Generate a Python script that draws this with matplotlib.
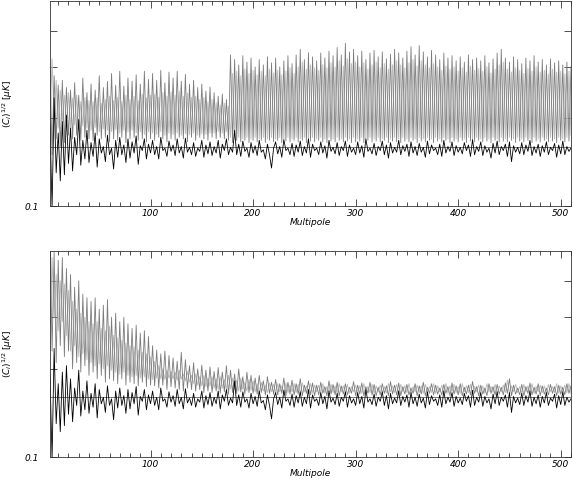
import matplotlib
matplotlib.use("Agg")
import matplotlib.pyplot as plt
import numpy as np

# multipoles sampled every 2
ell = np.arange(2, 511, 2)

# noise spectrum (black), same in both panels, in nK
noise_nk = [
    190, 98, 235, 130, 178, 122, 195, 128, 205, 140,
    185, 132, 172, 150, 198, 138, 168, 145, 182, 141,
    165, 148, 178, 136, 170, 152, 160, 142, 175, 150,
    158, 134, 168, 147, 172, 150, 162, 141, 170, 146,
    166, 152, 174, 139, 161, 155, 170, 145, 163, 152,
    168, 150, 160, 145, 172, 155, 158, 148, 167, 154,
    162, 149, 170, 152, 160, 146, 171, 153, 159, 150,
    165, 148, 158, 154, 168, 147, 162, 151, 166, 149,
    160, 152, 168, 146, 163, 155, 170, 150, 159, 153,
    182, 150, 163, 148, 167, 154, 158, 147, 165, 152,
    161, 149, 168, 153, 156, 145, 163, 150, 135, 158,
    166, 151, 160, 147, 169, 155, 158, 150, 164, 148,
    162, 153, 167, 149, 160, 152, 170, 147, 163, 155,
    158, 150, 166, 152, 161, 146, 168, 154, 159, 151,
    165, 149, 160, 155, 167, 148, 162, 153, 158, 150,
    166, 152, 161, 147, 170, 154, 158, 151, 164, 149,
    160, 155, 167, 150, 162, 146, 165, 152, 159, 153,
    168, 150, 161, 154, 163, 148, 166, 152, 160, 149,
    164, 153, 159, 147, 167, 151, 162, 155, 158, 150,
    163, 148, 168, 152, 160, 154, 166, 149, 161, 153,
    159, 151, 165, 155, 162, 148, 169, 150, 160, 154,
    166, 149, 161, 153, 158, 146, 164, 152, 167, 150,
    160, 155, 163, 148, 166, 142, 161, 153, 159, 151,
    165, 150, 162, 154, 168, 149, 160, 152, 163, 148,
    161, 153, 166, 150, 159, 155, 164, 147, 162, 151,
    167, 150, 160, 154, 158,
]

# top panel, dark grey curve (nK)
top_dark_nk = [
    300, 150, 280, 170, 260, 160, 270, 165, 255, 175,
    250, 170, 265, 175, 240, 168, 275, 172, 245, 170,
    262, 168, 250, 175, 280, 170, 255, 172, 268, 166,
    285, 170, 260, 168, 290, 172, 258, 165, 275, 170,
    268, 172, 282, 168, 262, 170, 290, 166, 272, 170,
    285, 168, 270, 172, 292, 170, 265, 166, 288, 170,
    275, 168, 290, 172, 268, 170, 283, 166, 262, 172,
    270, 168, 255, 172, 262, 170, 248, 168, 256, 172,
    245, 170, 238, 172, 242, 170, 232, 168, 330, 165,
    318, 168, 305, 166, 328, 168, 312, 165, 322, 168,
    300, 166, 318, 168, 305, 165, 325, 168, 310, 166,
    322, 168, 300, 165, 315, 167, 328, 166, 308, 168,
    330, 166, 345, 168, 318, 165, 336, 167, 325, 166,
    315, 168, 335, 166, 322, 165, 340, 167, 328, 166,
    350, 168, 330, 166, 362, 167, 338, 165, 345, 166,
    328, 167, 340, 165, 318, 168, 335, 166, 342, 167,
    325, 166, 338, 168, 320, 165, 332, 167, 345, 166,
    335, 165, 322, 167, 340, 166, 352, 168, 330, 165,
    355, 167, 338, 166, 325, 168, 342, 165, 330, 167,
    318, 166, 335, 168, 322, 165, 328, 167, 315, 166,
    325, 168, 312, 165, 330, 167, 318, 166, 322, 168,
    315, 166, 328, 167, 310, 165, 320, 168, 335, 166,
    345, 167, 322, 166, 312, 168, 325, 165, 318, 167,
    308, 166, 322, 168, 315, 165, 328, 167, 312, 166,
    318, 168, 305, 166, 320, 167, 310, 165, 315, 168,
    305, 166, 312, 167, 300,
]

# top panel, light grey curve (nK)
top_light_nk = [
    190, 320, 200, 270, 185, 250, 195, 240, 190, 245,
    185, 235, 190, 240, 182, 228, 188, 236, 185, 230,
    182, 228, 186, 235, 180, 225, 184, 232, 182, 238,
    180, 230, 183, 236, 178, 228, 182, 240, 180, 232,
    182, 238, 178, 230, 180, 242, 176, 235, 180, 240,
    178, 242, 176, 236, 180, 245, 175, 238, 178, 246,
    176, 240, 178, 248, 175, 238, 177, 244, 176, 236,
    178, 238, 175, 232, 177, 236, 176, 228, 178, 232,
    178, 226, 180, 222, 178, 225, 180, 220, 172, 285,
    170, 290, 172, 280, 170, 295, 172, 285, 170, 292,
    172, 282, 170, 290, 172, 280, 170, 295, 172, 286,
    170, 292, 172, 282, 170, 290, 172, 298, 170, 285,
    172, 300, 170, 312, 172, 295, 170, 305, 172, 298,
    170, 292, 172, 305, 170, 298, 172, 310, 170, 300,
    172, 315, 170, 302, 172, 320, 170, 308, 172, 312,
    170, 300, 172, 310, 170, 295, 172, 305, 170, 312,
    172, 298, 170, 308, 172, 295, 170, 305, 172, 315,
    170, 305, 172, 298, 170, 310, 172, 318, 170, 302,
    172, 315, 170, 305, 172, 298, 170, 308, 172, 300,
    170, 292, 172, 302, 170, 295, 172, 300, 170, 290,
    172, 298, 170, 288, 172, 302, 170, 292, 172, 296,
    170, 290, 172, 300, 170, 286, 172, 295, 170, 305,
    172, 312, 170, 295, 172, 288, 170, 298, 172, 292,
    170, 285, 172, 296, 170, 290, 172, 300, 170, 288,
    172, 292, 170, 284, 172, 295, 170, 288, 172, 290,
    170, 284, 172, 290, 175,
]

# bottom panel, dark grey curve (nK)
bot_dark_nk = [
    600, 230, 500, 210, 470, 240, 480, 220, 440, 230,
    420, 200, 380, 210, 400, 195, 360, 205, 350, 190,
    340, 195, 350, 185, 320, 190, 330, 180, 345, 185,
    300, 182, 310, 178, 290, 185, 300, 176, 285, 180,
    275, 178, 282, 175, 265, 180, 270, 174, 258, 176,
    240, 175, 232, 172, 225, 176, 230, 170, 222, 174,
    218, 172, 212, 170, 228, 168, 215, 172, 205, 170,
    210, 168, 200, 170, 206, 166, 198, 168, 203, 166,
    196, 168, 202, 165, 195, 167, 205, 164, 198, 166,
    192, 165, 200, 167, 188, 164, 195, 166, 190, 165,
    186, 164, 190, 166, 182, 163, 188, 165, 180, 164,
    184, 163, 178, 165, 186, 162, 180, 164, 183, 163,
    178, 164, 185, 162, 176, 165, 182, 163, 179, 162,
    176, 163, 180, 165, 174, 162, 182, 164, 177, 163,
    180, 162, 175, 164, 178, 163, 173, 165, 181, 162,
    176, 164, 179, 162, 174, 165, 180, 163, 177, 162,
    173, 163, 178, 165, 175, 162, 181, 164, 176, 163,
    179, 162, 174, 164, 177, 163, 172, 165, 178, 162,
    175, 164, 180, 162, 173, 165, 178, 163, 176, 164,
    172, 163, 177, 165, 174, 162, 179, 164, 175, 163,
    178, 162, 173, 164, 176, 163, 181, 165, 174, 162,
    176, 164, 172, 162, 178, 165, 174, 163, 177, 164,
    173, 163, 179, 165, 185, 162, 176, 164, 172, 163,
    177, 162, 174, 165, 179, 163, 173, 164, 178, 162,
    175, 164, 172, 163, 177, 165, 174, 162, 176, 164,
    173, 163, 178, 165, 175,
]

# bottom panel, light grey curve (nK)
bot_light_nk = [
    280, 480, 300, 420, 270, 400, 290, 390, 260, 370,
    230, 340, 240, 320, 220, 310, 225, 300, 215, 290,
    210, 285, 205, 290, 208, 275, 200, 270, 205, 280,
    198, 260, 195, 255, 192, 250, 195, 245, 190, 240,
    188, 238, 190, 232, 186, 228, 188, 225, 185, 220,
    184, 212, 186, 205, 185, 200, 184, 198, 186, 196,
    185, 195, 183, 198, 185, 192, 182, 196, 180, 190,
    178, 192, 176, 188, 175, 190, 174, 186, 175, 188,
    172, 185, 170, 188, 172, 184, 170, 190, 171, 186,
    170, 183, 168, 186, 170, 180, 168, 184, 169, 182,
    167, 178, 166, 180, 168, 176, 166, 179, 167, 177,
    166, 178, 167, 175, 165, 179, 166, 176, 167, 178,
    166, 177, 165, 179, 167, 175, 166, 178, 165, 176,
    167, 176, 166, 178, 165, 174, 167, 177, 166, 175,
    165, 178, 167, 175, 166, 177, 165, 174, 167, 176,
    166, 175, 165, 178, 167, 174, 166, 177, 165, 175,
    167, 176, 166, 174, 165, 178, 167, 175, 166, 177,
    165, 177, 167, 175, 166, 178, 165, 174, 167, 176,
    166, 175, 165, 177, 167, 174, 166, 178, 165, 175,
    167, 176, 166, 178, 165, 175, 167, 177, 166, 174,
    165, 178, 167, 175, 166, 177, 165, 174, 167, 176,
    166, 175, 165, 178, 167, 174, 166, 177, 165, 175,
    167, 176, 166, 183, 165, 175, 167, 177, 166, 174,
    165, 177, 167, 175, 166, 178, 165, 174, 167, 176,
    166, 175, 165, 177, 167, 174, 166, 178, 165, 175,
    167, 176, 166, 178, 165,
]

noise_level = 0.16  # uK, reference line
xticks = [100, 200, 300, 400, 500]
yticks = [0.1, 0.2, 0.3, 0.4]
ytick_labels = ["0.1", "", "", ""]

# convert nK -> uK
noise = np.array(noise_nk) / 1000
top_dark = np.array(top_dark_nk) / 1000
top_light = np.array(top_light_nk) / 1000
bot_dark = np.array(bot_dark_nk) / 1000
bot_light = np.array(bot_light_nk) / 1000

fig = plt.figure(figsize=(5.73, 4.8), dpi=100)
ax_top = fig.add_axes([0.0873, 0.5708, 0.9092, 0.427])
ax_bot = fig.add_axes([0.0873, 0.0479, 0.9092, 0.429])

panels = [(ax_top, top_light, top_dark), (ax_bot, bot_light, bot_dark)]
for ax, light, dark in panels:
    ax.plot(ell, light, color="#bdbdbd", lw=0.7)
    ax.plot(ell, dark, color="#7c7c7c", lw=0.6)
    ax.axhline(noise_level, color="#444444", lw=0.5)
    ax.plot(ell, noise, color="black", lw=0.6)

    ax.set_yscale("log")
    ax.set_xlim(2, 510)
    ax.set_ylim(0.1, 0.505)
    ax.set_yticks(yticks)
    ax.set_yticklabels(ytick_labels)
    ax.yaxis.set_minor_locator(matplotlib.ticker.NullLocator())
    ax.set_xticks(xticks)
    ax.set_xticks(np.arange(10, 511, 10), minor=True)
    ax.tick_params(which="both", direction="in", top=True, right=True,
                   labelsize=6.5, width=0.6, colors="#333333", labelcolor="black")
    ax.tick_params(which="major", length=5)
    ax.tick_params(which="minor", length=3)
    ax.tick_params(axis="x", pad=2)
    ax.tick_params(axis="y", pad=8)
    for lbl in ax.get_xticklabels() + ax.get_yticklabels():
        lbl.set_fontstyle("italic")
    for sp in ax.spines.values():
        sp.set_linewidth(0.6)
        sp.set_color("#333333")
    ax.set_xlabel("Multipole", fontsize=6.5, style="italic", labelpad=0)
    ax.set_ylabel(r"$(C_l)^{1/2}$ [$\mu K$]", fontsize=6.5)
    ax.yaxis.set_label_coords(-0.068, 0.5)

fig.savefig("out.png", dpi=100)
